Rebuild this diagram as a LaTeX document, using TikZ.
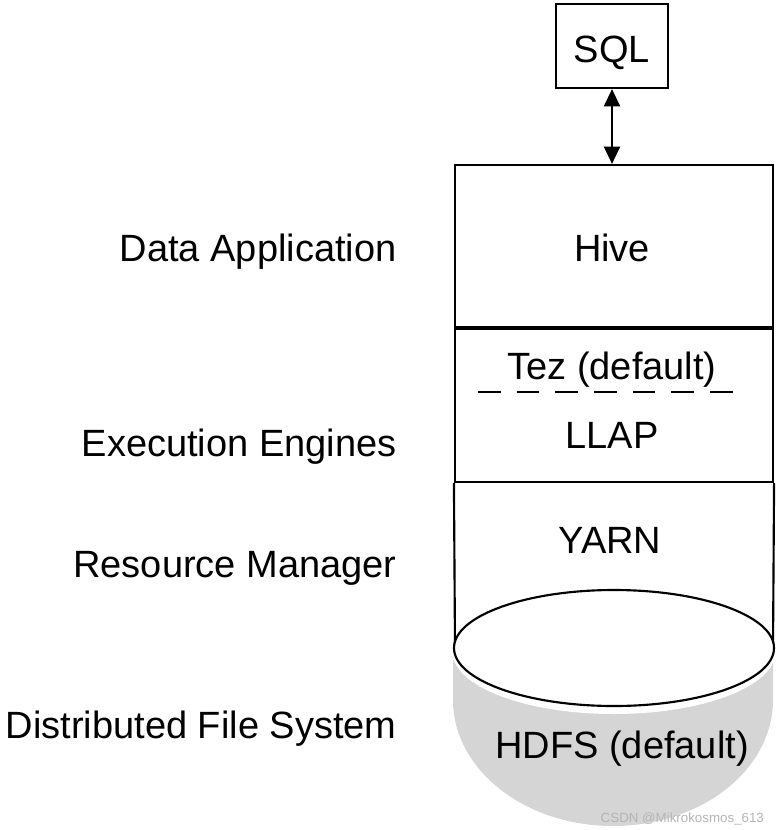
\documentclass[tikz,border=0pt]{standalone}
\usepackage{fontspec}
\setmainfont{Liberation Sans}
\usetikzlibrary{arrows.meta,positioning}
\definecolor{hdfsgray}{HTML}{D5D5D5}
\definecolor{wmark}{HTML}{B4B4B4}
\tikzset{
 layer/.style={draw,minimum width=238.5pt,inner sep=0pt},
 lbl/.style={anchor=base east},
 txt/.style={anchor=base,inner sep=0pt}
}
\begin{document}
\begin{tikzpicture}[x=.75pt,y=-.75pt,font=\fontsize{28.5}{34}\selectfont,line width=1.6pt]
 \useasboundingbox (0,0) rectangle (778,830);
 % stack of layers
 \node[draw,minimum width=84pt,minimum height=63pt,inner sep=0pt] (sql) at (612,46) {};
 \node[txt] (sqltext) at (612,63) {SQL};
 \node[layer,minimum height=121.5pt] (hive) at (614,246) {};
 \node[layer,minimum height=114.75pt,below=0pt of hive] (engines) {};
 \draw[{Triangle[length=13pt,width=12pt]}-{Triangle[length=13pt,width=12pt]}] (sql.south) -- (sql.south |- hive.north);
 \node[txt] (hivetext) at (612,262) {Hive};
 \node[txt] (tez) at (612,379) {Tez (default)};
 \draw[line width=2pt,dash pattern=on 17pt off 12pt] (478,392) -- (733,392);
 \node[txt] (llap) at (612,448) {LLAP};
 \node[txt] (yarn) at (610,553) {YARN};
 % cylinder
 \draw (engines.south west) -- (455,648);
 \draw (engines.south east) -- (773,648);
 \fill[hdfsgray] (453,660) -- (453,700) arc[start angle=180,end angle=360,x radius=120pt,y radius=94.5pt] -- (773,660) -- cycle;
 \fill[white] (614,652) ellipse (121pt and 46.5pt);
 \draw[fill=white] (614,648) ellipse (120pt and 43.5pt);
 \node[txt] (hdfs) at (622,758) {HDFS (default)};
 % left labels
 \node[lbl] (app) at (402,262) {Data Application};
 \node[lbl] (exec) at (402,456) {Execution Engines};
 \node[lbl] (rm) at (402,577) {Resource Manager};
 \node[lbl] (dfs) at (402,738) {Distributed File System};
 \node[anchor=base east,inner sep=0pt,text=wmark,font=\fontsize{10}{12}\selectfont] (mark) at (765,822) {CSDN @Mikrokosmos\_613};
\end{tikzpicture}
\end{document}
